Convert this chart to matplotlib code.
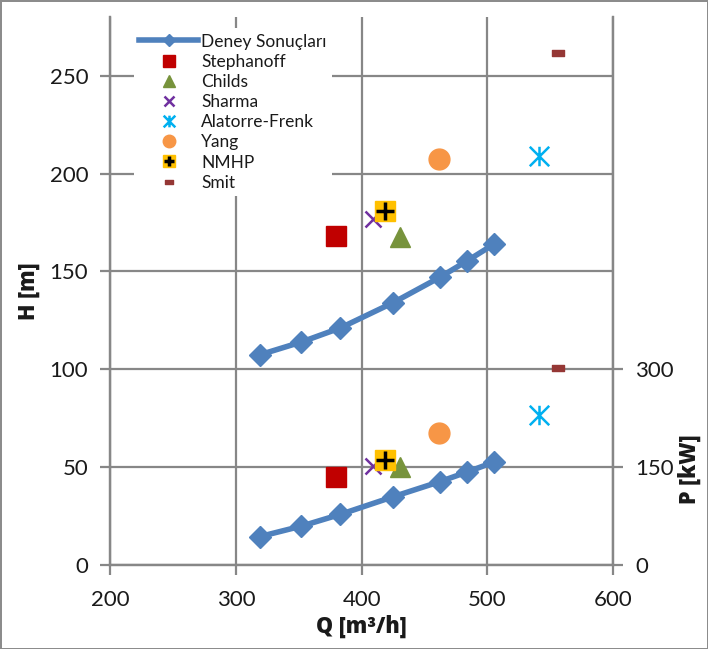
import matplotlib
matplotlib.use("Agg")
import matplotlib.pyplot as plt
from matplotlib.path import Path
from matplotlib.legend_handler import HandlerTuple

plt.rcParams['font.family'] = ['Lato', 'DejaVu Sans']

# measured test results
q_test = [319, 352, 383, 425, 462, 484, 505]
h_test = [107.5, 114.0, 121.2, 134.1, 147.0, 155.5, 163.9]
p_test = [44, 60, 78, 105, 128, 143, 158]

# predictions of each method (head and power at one flow)
methods = ["Stephanoff", "Childs", "Sharma", "Alatorre-Frenk", "Yang", "NMHP", "Smit"]
q_pred = [379.5, 430.6, 409.0, 541.4, 461.5, 418.3, 556.1]
h_pred = [168.1, 167.7, 176.6, 209.0, 207.3, 180.8, 261.8]
p_pred = [134.5, 151.0, 152.0, 230.0, 202.0, 160.5, 302.7]

x_ticks = [200, 300, 400, 500, 600]
h_ticks = [0, 50, 100, 150, 200, 250]
p_ticks = [0, 150, 300]

grid_c = '#878787'
txt_c = '#1a1a1a'

asterisk = Path([(-1, -1), (1, 1), (-1, 1), (1, -1), (0, -1), (0, 1)],
                [Path.MOVETO, Path.LINETO] * 3)
dash = Path([(-1, -0.45), (1, -0.45), (1, 0.45), (-1, 0.45), (-1, -0.45)],
            [Path.MOVETO, Path.LINETO, Path.LINETO, Path.LINETO, Path.CLOSEPOLY])

styles = {
    "Stephanoff": dict(marker='s', ms=15, color='#C00000'),
    "Childs": dict(marker='^', ms=15, color='#77933C'),
    "Sharma": dict(marker='x', ms=12, color='#7030A0', mew=1.8),
    "Alatorre-Frenk": dict(marker=asterisk, ms=14, color='#00B0F0', mew=1.8),
    "Yang": dict(marker='o', ms=15, color='#F79646'),
    "NMHP": dict(marker='s', ms=15, color='#FFC000'),
    "Smit": dict(marker=dash, ms=9, color='#953735'),
}

fig = plt.figure(figsize=(7.08, 6.49), dpi=100)
fig.patch.set_edgecolor('#8c8c8c')
fig.patch.set_linewidth(2)
ax = fig.add_axes([0.156, 0.129, 0.710, 0.845])
ax2 = ax.twinx()

line_kw = dict(color='#4F81BD', lw=4, marker='D', ms=11)
ln, = ax.plot(q_test, h_test, **line_kw, zorder=3)
ax2.plot(q_test, p_test, **line_kw, zorder=3)

handles = [ln]
for i, m in enumerate(methods):
    st = dict(styles[m])
    col = st.pop('color')
    h, = ax.plot([q_pred[i]], [h_pred[i]], ls='none', mfc=col, mec=col, zorder=4, **st)
    ax2.plot([q_pred[i]], [p_pred[i]], ls='none', mfc=col, mec=col, zorder=4, **st)
    if m == "NMHP":
        p, = ax.plot([q_pred[i]], [h_pred[i]], ls='none', marker='+', ms=13,
                     mew=2.5, color='black', zorder=5)
        ax2.plot([q_pred[i]], [p_pred[i]], ls='none', marker='+', ms=13,
                 mew=2.5, color='black', zorder=5)
        handles.append((h, p))
    else:
        handles.append(h)

ax.set_xlim(200, 600)
ax.set_ylim(0, 280)
ax2.set_ylim(0, 840)
ax.set_xticks(x_ticks)
ax.set_yticks(h_ticks)
ax2.set_yticks(p_ticks)

ax.grid(True, color=grid_c, lw=1.6, zorder=0)
ax.set_axisbelow(True)
for a in (ax, ax2):
    a.spines['top'].set_visible(False)
    for s in ('left', 'right', 'bottom'):
        a.spines[s].set_color(grid_c)
        a.spines[s].set_linewidth(1.6)
    a.tick_params(colors=grid_c, labelcolor=txt_c, labelsize=16, width=1.6, length=7)
ax.tick_params(axis='y', pad=9)
ax.tick_params(axis='x', pad=11)
ax2.tick_params(axis='y', pad=9)

lab_kw = dict(fontsize=15.5, fontweight='heavy', color=txt_c,
              family=['Open Sans', 'DejaVu Sans'])
ax.set_xlabel('Q [m³/h]', labelpad=3, **lab_kw)
ax.set_ylabel('H [m]', labelpad=6, **lab_kw)
ax2.set_ylabel('P [kW]', **lab_kw)
ax2.yaxis.set_label_coords(1.128, 0.175)

leg = ax.legend(handles, ["Deney Sonuçları"] + methods, loc='upper left',
                bbox_to_anchor=(0.03, 0.995), fontsize=12.5, markerscale=0.6,
                handlelength=3.4, handletextpad=0.15, labelspacing=0.24,
                borderpad=0.3, frameon=True, fancybox=False,
                handler_map={tuple: HandlerTuple(ndivide=1)})
leg.get_frame().set_facecolor('white')
leg.get_frame().set_edgecolor('none')
leg.get_frame().set_alpha(1)
for t in leg.get_texts():
    t.set_color(txt_c)

fig.savefig('out.png', dpi=100, edgecolor=fig.get_edgecolor())
